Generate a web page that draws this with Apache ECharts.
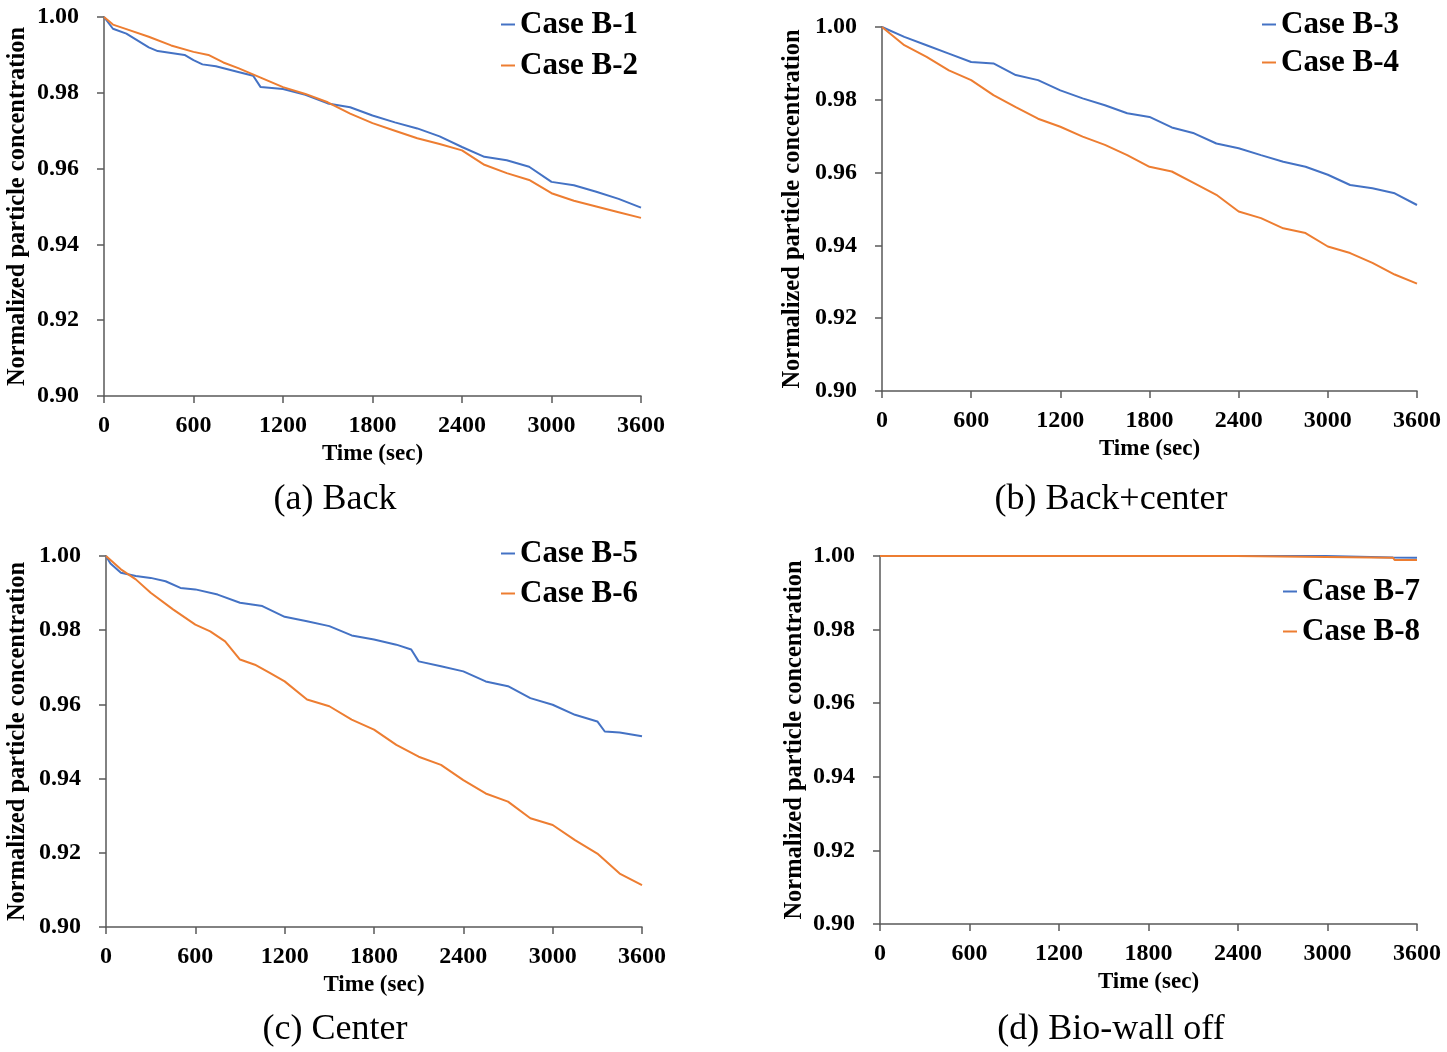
<!DOCTYPE html>
<html><head><meta charset="utf-8">
<script src="https://cdn.jsdelivr.net/npm/echarts@6/dist/echarts.min.js"></script>
<style>html,body{margin:0;padding:0;background:#fff}#c{width:1447px;height:1052px}</style>
</head><body><div id="c"></div>
<script>
// ---- data ----
var timeB1 = [0,60,150,300,360,450,540,600,660,750,900,1000,1050,1200,1350,1500,1650,1800,1950,2100,2250,2400,2550,2700,2850,3000,3150,3300,3450,3600];
var valB1  = [1.000,0.9969,0.9956,0.992,0.991,0.9905,0.990,0.9886,0.9875,0.987,0.9855,0.9845,0.9815,0.981,0.9795,0.9772,0.9762,0.974,0.9722,0.9706,0.9685,0.9657,0.9631,0.9622,0.9605,0.9565,0.9556,0.9539,0.952,0.9497];
var timeB2 = [0,60,150,300,450,600,700,800,900,1050,1200,1350,1500,1650,1800,1950,2100,2250,2400,2550,2700,2850,3000,3150,3300,3450,3600];
var valB2  = [1.0,0.998,0.9968,0.9948,0.9925,0.9908,0.990,0.988,0.9865,0.984,0.9815,0.9797,0.9775,0.9745,0.972,0.970,0.968,0.9665,0.9648,0.961,0.9588,0.957,0.9535,0.9515,0.950,0.9485,0.947];
var timeB3 = [0,150,300,450,600,750,900,1050,1200,1350,1500,1650,1800,1950,2100,2250,2400,2550,2700,2850,3000,3150,3300,3450,3600];
var valB3  = [1.0,0.9973,0.995,0.9927,0.9904,0.990,0.9868,0.9854,0.9826,0.9804,0.9785,0.9763,0.9753,0.9724,0.9708,0.968,0.9667,0.9648,0.963,0.9616,0.9594,0.9566,0.9557,0.9543,0.9511];
var timeB4 = [0,150,300,450,600,750,900,1050,1200,1350,1500,1650,1800,1950,2100,2250,2400,2550,2700,2850,3000,3150,3300,3450,3600];
var valB4  = [1.0,0.995,0.9918,0.9881,0.9854,0.9813,0.978,0.9748,0.9726,0.9699,0.9676,0.9648,0.9616,0.9603,0.9571,0.9539,0.9493,0.9475,0.9447,0.9434,0.9397,0.9379,0.9352,0.932,0.9295];
var timeB5 = [0,30,100,200,300,400,500,600,750,900,1050,1200,1350,1500,1650,1800,1950,2050,2100,2250,2400,2550,2700,2850,3000,3150,3300,3350,3450,3600];
var valB5  = [1.0,0.998,0.9955,0.9946,0.9941,0.9932,0.9914,0.991,0.9896,0.9874,0.9865,0.9836,0.9824,0.9811,0.9786,0.9775,0.9761,0.9748,0.9716,0.9703,0.9689,0.9662,0.9649,0.9617,0.9599,0.9572,0.9554,0.9527,0.9524,0.9514];
var timeB6 = [0,100,200,300,450,600,700,800,900,1000,1100,1200,1350,1500,1650,1800,1950,2100,2250,2400,2550,2700,2850,3000,3150,3300,3450,3600];
var valB6  = [1.0,0.9964,0.9937,0.9901,0.9856,0.9815,0.9797,0.977,0.9721,0.9707,0.9685,0.9662,0.9613,0.9595,0.9559,0.9532,0.9491,0.9459,0.9437,0.9396,0.936,0.9338,0.9293,0.9275,0.9234,0.9198,0.9144,0.9113];
var timeB7 = [0,2990,3000,3440,3450,3600];
var valB7  = [1.0,1.0,0.9996,0.9996,0.9995,0.9995];
var timeB8 = [0,2390,2400,3440,3450,3600];
var valB8  = [1.0,1.0,0.9995,0.9995,0.9989,0.9989];

var xTicks = [0,600,1200,1800,2400,3000,3600];
var yTicks = [0.90,0.92,0.94,0.96,0.98,1.00];
var captions = ['(a) Back','(b) Back+center','(c) Center','(d) Bio-wall off'];
var seriesNames = ['Case B-1','Case B-2','Case B-3','Case B-4','Case B-5','Case B-6','Case B-7','Case B-8'];

// ---- layout ----
var FONT = "Liberation Serif";
var BLUE = '#4472C4', ORANGE = '#ED7D31';
var grids = [
  {left:104, top:17, width:537, height:379},
  {left:882, top:27, width:535, height:364},
  {left:106, top:556, width:536, height:371},
  {left:880, top:556, width:537, height:368}
];
var yNameGap = [74, 77, 76, 73];
var legendPos = [
  {left:501, top:9, gap:10},
  {left:1262, top:9, gap:7},
  {left:501, top:538, gap:9},
  {left:1283, top:576, gap:9}
];
var captionPos = [[335,500],[1111,500],[335,1030],[1111,1030]];

function pairs(t, v){ return t.map(function(x,i){ return [x, v[i]]; }); }
var allT = [timeB1,timeB2,timeB3,timeB4,timeB5,timeB6,timeB7,timeB8];
var allV = [valB1,valB2,valB3,valB4,valB5,valB6,valB7,valB8];

var xAxes = [], yAxes = [], series = [], legends = [], graphics = [];
grids.forEach(function(g, i){
  xAxes.push({
    type:'value', gridIndex:i, min:xTicks[0], max:xTicks[xTicks.length-1], interval:600,
    name:'Time (sec)', nameLocation:'middle', nameGap:47,
    nameTextStyle:{fontFamily:FONT, fontWeight:'bold', fontSize:23, color:'#000'},
    axisLine:{lineStyle:{color:'#595959', width:1.5}},
    axisTick:{show:true, length:7, lineStyle:{color:'#595959', width:1.5}},
    axisLabel:{fontFamily:FONT, fontWeight:'bold', fontSize:24, color:'#000', margin:18,
      formatter:function(v){ return String(v); }},
    splitLine:{show:false}
  });
  yAxes.push({
    type:'value', gridIndex:i, min:0.90, max:1.00, interval:0.02,
    name:'Normalized particle concentration', nameLocation:'middle', nameGap:yNameGap[i],
    nameTextStyle:{fontFamily:FONT, fontWeight:'bold', fontSize:24.5, color:'#000'},
    axisLine:{show:true, lineStyle:{color:'#595959', width:1.5}},
    axisTick:{show:true, length:7, lineStyle:{color:'#595959', width:1.5}},
    axisLabel:{fontFamily:FONT, fontWeight:'bold', fontSize:24, color:'#000', margin:25,
      formatter:function(v){ return v.toFixed(2); }},
    splitLine:{show:false}
  });
  [0,1].forEach(function(k){
    var idx = i*2+k;
    series.push({
      type:'line', name:seriesNames[idx], xAxisIndex:i, yAxisIndex:i,
      data:pairs(allT[idx], allV[idx]), showSymbol:false, symbol:'none',
      lineStyle:{color:k===0?BLUE:ORANGE, width:2}, itemStyle:{color:k===0?BLUE:ORANGE},
      z: k===0?2:3, animation:false
    });
  });
  var lp = legendPos[i];
  legends.push({
    orient:'vertical', left:lp.left, top:lp.top, itemGap:lp.gap, padding:0,
    data:[seriesNames[i*2], seriesNames[i*2+1]],
    icon:'rect', itemWidth:14, itemHeight:2, selectedMode:false,
    textStyle:{fontFamily:FONT, fontWeight:'bold', fontSize:31, color:'#000'}
  });
  graphics.push({
    type:'text', x:captionPos[i][0], y:captionPos[i][1],
    style:{text:captions[i], fontFamily:FONT, fontSize:36, fill:'#000', textAlign:'center', textVerticalAlign:'middle'}
  });
});

var chart = echarts.init(document.getElementById('c'), null, {renderer:'canvas'});
chart.setOption({
  backgroundColor:'#fff', animation:false,
  grid:grids, xAxis:xAxes, yAxis:yAxes, series:series, legend:legends, graphic:graphics
});
</script></body></html>
